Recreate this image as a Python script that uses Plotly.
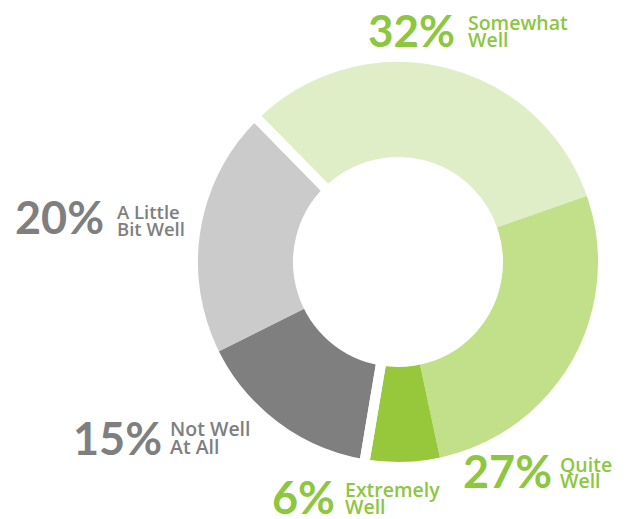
import plotly.graph_objects as go

categories = ["Somewhat Well", "Quite Well", "Extremely Well", "Not Well At All", "A Little Bit Well"]
values = [32, 27, 6, 15, 20]
label_lines = [["Somewhat", "Well"], ["Quite", "Well"], ["Extremely", "Well"], ["Not Well", "At All"], ["A Little", "Bit Well"]]

slice_colors = ["#dfeec6", "#c2e08a", "#97c83c", "#7f7f7f", "#cbcbcb"]
text_colors = ["#8dc63f", "#8dc63f", "#8dc63f", "#7f7f7f", "#7f7f7f"]

W, H = 626, 519
cx, cy = 398, 262
r_outer = 205
hole = 100 / 205
rotation = -44.5

dom_x = [(cx - r_outer) / W, (cx + r_outer) / W]
dom_y = [(H - cy - r_outer) / H, (H - cy + r_outer) / H]

fig = go.Figure()
fig.add_trace(go.Pie(
    labels=categories, values=values, sort=False, direction="clockwise",
    rotation=rotation, hole=hole, textinfo="none", hoverinfo="label+percent",
    marker=dict(colors=slice_colors, line=dict(width=0)),
    domain=dict(x=dom_x, y=dom_y), showlegend=False,
))
# white separators: overlay split at the two gap positions
gap_vals = [sum(values[:3]), sum(values[3:])]
fig.add_trace(go.Pie(
    labels=["g1", "g2"], values=gap_vals, sort=False, direction="clockwise",
    rotation=rotation, hole=hole, textinfo="none", hoverinfo="skip",
    marker=dict(colors=["rgba(0,0,0,0)", "rgba(0,0,0,0)"], line=dict(color="white", width=10)),
    domain=dict(x=dom_x, y=dom_y), showlegend=False,
))

# label layout (pixel positions): number x, number centre y, text x, line centres y, number size
layout_pos = [
    (366, 30.5, 466, [22.5, 39.5], 44),
    (461, 471, 558, [464.5, 480.5], 45),
    (270, 496.5, 343, [489.5, 506.5], 45),
    (71, 437.5, 168, [428.5, 446], 45),
    (13, 217.5, 115, [211.5, 228], 45),
]
label_sizes = [19.5, 19.5, 19.5, 19.5, 18.5]

ann = []
for i, (nx, ny, tx, tys, nsize) in enumerate(layout_pos):
    ann.append(dict(
        text=f"<b>{values[i]}%</b>", x=nx / W, y=1 - ny / H,
        xref="paper", yref="paper", xanchor="left", yanchor="middle", showarrow=False,
        font=dict(family="Lato", size=nsize, color=text_colors[i]),
    ))
    for line, ty in zip(label_lines[i], tys):
        ann.append(dict(
            text=line, x=tx / W, y=1 - ty / H,
            xref="paper", yref="paper", xanchor="left", yanchor="middle", showarrow=False,
            font=dict(family="Open Sans", size=label_sizes[i], color=text_colors[i], weight=600),
        ))

fig.update_layout(
    width=W, height=H, margin=dict(l=0, r=0, t=0, b=0),
    paper_bgcolor="white", plot_bgcolor="white",
    annotations=ann,
)
fig.write_html(
    "out.html",
    config={"displayModeBar": False},
    post_script="document.body.style.margin='0';document.body.style.overflow='hidden';",
)
